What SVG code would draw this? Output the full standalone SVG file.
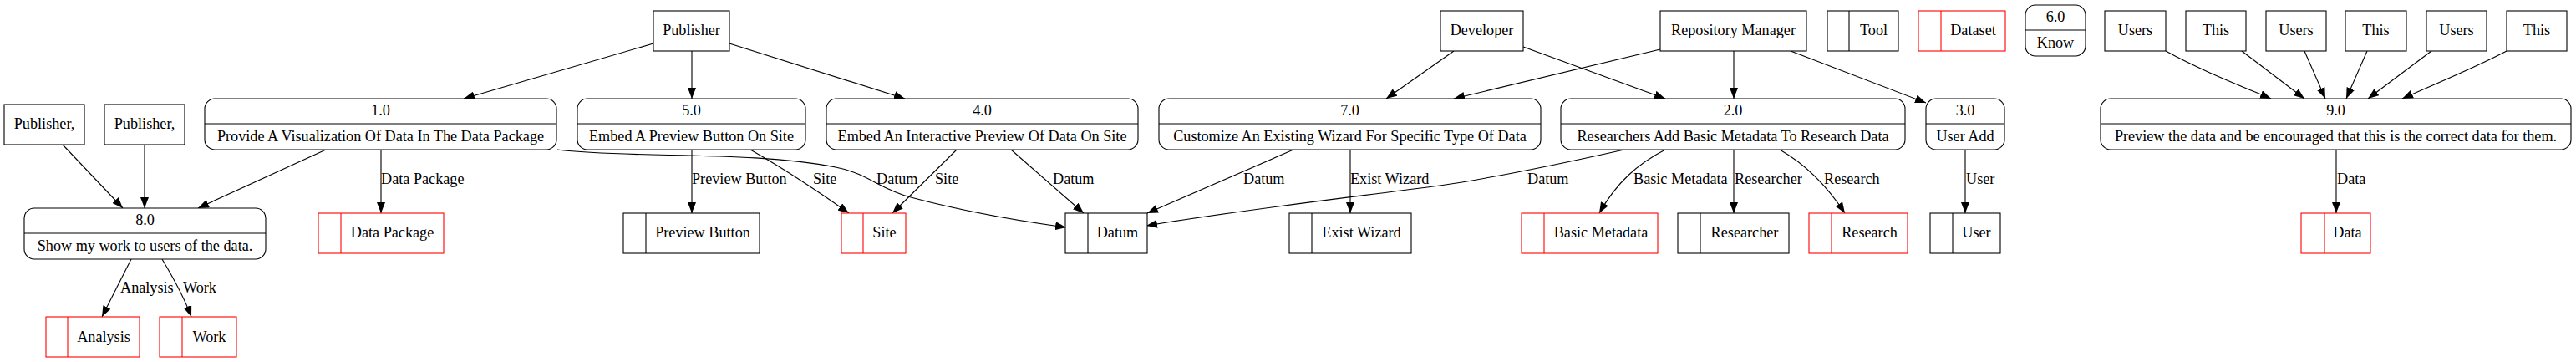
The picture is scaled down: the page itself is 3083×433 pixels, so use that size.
<svg xmlns="http://www.w3.org/2000/svg" width="3083" height="433" viewBox="0 0 3083 433">
<style>
text{font-family:"Liberation Serif","Times New Roman",serif;font-size:18.2px;fill:#000}
.n text{text-anchor:middle}
.box{fill:#fff;stroke:#000;stroke-width:1.1}
.red{fill:#fff;stroke:#ff0000;stroke-width:1.1}
.redl{stroke:#ff0000;stroke-width:1.1}
.bl{stroke:#000;stroke-width:1.1}
.e path{fill:none;stroke:#000;stroke-width:1.1;marker-end:url(#ah)}
.lbl text{text-anchor:start}
</style>
<defs>
<marker id="ah" markerUnits="userSpaceOnUse" markerWidth="13" markerHeight="10" refX="13" refY="5" orient="auto">
<path d="M0,0 L13,5 L0,10 z" fill="#000"/>
</marker>
</defs>
<rect width="3083" height="433" fill="#fff"/>

<g id="connectors" class="e">
<path d="M75,173 L147,249"/>
<path d="M173,173 L173,249"/>
<path d="M390,179 L237,249"/>
<path d="M456,179 L456,255"/>
<path d="M157,310 L122,379"/>
<path d="M194,310 C206,330 219,352 229,379"/>
<path d="M782,52 L555,118"/>
<path d="M828,61 L828,118"/>
<path d="M873,52 L1083,118"/>
<path d="M828,179 L828,255"/>
<path d="M898,179 C935,200 975,226 1016,255"/>
<path d="M667,179 C760,190 900,180 1000,200 C1040,208 1050,225 1090,236 C1150,252 1210,263 1276,272"/>
<path d="M1145,179 L1068,255"/>
<path d="M1210,179 L1297,255"/>
<path d="M1740,61 L1659,118"/>
<path d="M1987,59 L1740,118"/>
<path d="M1823,56 L1993,118"/>
<path d="M2075,61 L2075,118"/>
<path d="M2143,61 L2305,123"/>
<path d="M1616,179 L1616,255"/>
<path d="M1548,179 L1373,255"/>
<path d="M1944,179 C1850,200 1760,218 1700,225 C1600,238 1480,252 1372,270"/>
<path d="M1993,179 C1960,196 1935,218 1914,255"/>
<path d="M2075,179 L2075,255"/>
<path d="M2130,179 C2160,196 2185,220 2208,255"/>
<path d="M2352,179 L2352,255"/>
<path d="M2592,61 C2630,82 2675,100 2718,118"/>
<path d="M2683,61 L2758,118"/>
<path d="M2758,61 L2783,118"/>
<path d="M2833,61 L2808,118"/>
<path d="M2910,61 L2834,118"/>
<path d="M3000,61 C2960,82 2915,100 2875,118"/>
<path d="M2796,179 L2796,255"/>
</g>

<g id="edge-labels" class="lbl">
<text x="456" y="219.5">Data Package</text>
<text x="144" y="350">Analysis</text>
<text x="219" y="350">Work</text>
<text x="828" y="219.5">Preview Button</text>
<text x="973" y="219.5">Site</text>
<text x="1049" y="219.5">Datum</text>
<text x="1119" y="219.5">Site</text>
<text x="1260" y="219.5">Datum</text>
<text x="1488" y="219.5">Datum</text>
<text x="1616" y="219.5">Exist Wizard</text>
<text x="1828" y="219.5">Datum</text>
<text x="1955" y="219.5">Basic Metadata</text>
<text x="2076" y="219.5">Researcher</text>
<text x="2183" y="219.5">Research</text>
<text x="2353" y="219.5">User</text>
<text x="2797" y="219.5">Data</text>
</g>

<g class="n">
<g id="publisher-comma-1"><rect class="box" x="5" y="125" width="96" height="48"/><text x="53" y="154">Publisher,</text></g>
<g id="publisher-comma-2"><rect class="box" x="125" y="125" width="96" height="48"/><text x="173" y="154">Publisher,</text></g>
<g id="publisher"><rect class="box" x="782" y="13" width="91" height="48"/><text x="827.5" y="42">Publisher</text></g>
<g id="developer"><rect class="box" x="1724" y="13" width="99" height="48"/><text x="1773.5" y="42">Developer</text></g>
<g id="repository-manager"><rect class="box" x="1987" y="13" width="175" height="48"/><text x="2074.5" y="42">Repository Manager</text></g>
<g id="users-1"><rect class="box" x="2519" y="13" width="73" height="48"/><text x="2555.5" y="42">Users</text></g>
<g id="this-1"><rect class="box" x="2616" y="13" width="72" height="48"/><text x="2652" y="42">This</text></g>
<g id="users-2"><rect class="box" x="2712" y="13" width="72" height="48"/><text x="2748" y="42">Users</text></g>
<g id="this-2"><rect class="box" x="2807" y="13" width="73" height="48"/><text x="2843.5" y="42">This</text></g>
<g id="users-3"><rect class="box" x="2904" y="13" width="72" height="48"/><text x="2940" y="42">Users</text></g>
<g id="this-3"><rect class="box" x="3000" y="13" width="72" height="48"/><text x="3036" y="42">This</text></g>

<g id="p1"><rect class="box" x="245" y="118" width="421" height="61" rx="12"/><line class="bl" x1="245" y1="148" x2="666" y2="148"/><text x="455.5" y="138">1.0</text><text x="455.5" y="169">Provide A Visualization Of Data In The Data Package</text></g>
<g id="p2"><rect class="box" x="1868" y="118" width="412" height="61" rx="12"/><line class="bl" x1="1868" y1="148" x2="2280" y2="148"/><text x="2074" y="138">2.0</text><text x="2074" y="169">Researchers Add Basic Metadata To Research Data</text></g>
<g id="p3"><rect class="box" x="2305" y="118" width="94" height="61" rx="12"/><line class="bl" x1="2305" y1="148" x2="2399" y2="148"/><text x="2352" y="138">3.0</text><text x="2352" y="169">User Add</text></g>
<g id="p4"><rect class="box" x="989" y="118" width="373" height="61" rx="12"/><line class="bl" x1="989" y1="148" x2="1362" y2="148"/><text x="1175.5" y="138">4.0</text><text x="1175.5" y="169">Embed An Interactive Preview Of Data On Site</text></g>
<g id="p5"><rect class="box" x="691" y="118" width="273" height="61" rx="12"/><line class="bl" x1="691" y1="148" x2="964" y2="148"/><text x="827.5" y="138">5.0</text><text x="827.5" y="169">Embed A Preview Button On Site</text></g>
<g id="p6"><rect class="box" x="2424" y="6" width="72" height="61" rx="12"/><line class="bl" x1="2424" y1="36" x2="2496" y2="36"/><text x="2460" y="26">6.0</text><text x="2460" y="57">Know</text></g>
<g id="p7"><rect class="box" x="1387" y="118" width="457" height="61" rx="12"/><line class="bl" x1="1387" y1="148" x2="1844" y2="148"/><text x="1615.5" y="138">7.0</text><text x="1615.5" y="169">Customize An Existing Wizard For Specific Type Of Data</text></g>
<g id="p8"><rect class="box" x="29" y="249" width="289" height="61" rx="12"/><line class="bl" x1="29" y1="279" x2="318" y2="279"/><text x="173.5" y="269">8.0</text><text x="173.5" y="300">Show my work to users of the data.</text></g>
<g id="p9"><rect class="box" x="2514" y="118" width="563" height="61" rx="12"/><line class="bl" x1="2514" y1="148" x2="3077" y2="148"/><text x="2795.5" y="138">9.0</text><text x="2795.5" y="169">Preview the data and be encouraged that this is the correct data for them.</text></g>

<g id="store-data-package"><rect class="red" x="381" y="255" width="150" height="48"/><line class="redl" x1="408" y1="255" x2="408" y2="303"/><text x="469.5" y="284">Data Package</text></g>
<g id="store-analysis"><rect class="red" x="55" y="379" width="112" height="48"/><line class="redl" x1="81" y1="379" x2="81" y2="427"/><text x="124" y="408.5">Analysis</text></g>
<g id="store-work"><rect class="red" x="191" y="379" width="92" height="48"/><line class="redl" x1="218" y1="379" x2="218" y2="427"/><text x="250.5" y="408.5">Work</text></g>
<g id="store-preview-button"><rect class="box" x="746" y="255" width="163" height="48"/><line class="bl" x1="773" y1="255" x2="773" y2="303"/><text x="841" y="284">Preview Button</text></g>
<g id="store-site"><rect class="red" x="1007" y="255" width="77" height="48"/><line class="redl" x1="1033" y1="255" x2="1033" y2="303"/><text x="1058.5" y="284">Site</text></g>
<g id="store-datum"><rect class="box" x="1275" y="255" width="98" height="48"/><line class="bl" x1="1302" y1="255" x2="1302" y2="303"/><text x="1337.5" y="284">Datum</text></g>
<g id="store-exist-wizard"><rect class="box" x="1543" y="255" width="146" height="48"/><line class="bl" x1="1570" y1="255" x2="1570" y2="303"/><text x="1629.5" y="284">Exist Wizard</text></g>
<g id="store-basic-metadata"><rect class="red" x="1821" y="255" width="163" height="48"/><line class="redl" x1="1848" y1="255" x2="1848" y2="303"/><text x="1916" y="284">Basic Metadata</text></g>
<g id="store-researcher"><rect class="box" x="2008" y="255" width="133" height="48"/><line class="bl" x1="2035" y1="255" x2="2035" y2="303"/><text x="2088" y="284">Researcher</text></g>
<g id="store-research"><rect class="red" x="2165" y="255" width="118" height="48"/><line class="redl" x1="2192" y1="255" x2="2192" y2="303"/><text x="2237.5" y="284">Research</text></g>
<g id="store-user"><rect class="box" x="2310" y="255" width="84" height="48"/><line class="bl" x1="2337" y1="255" x2="2337" y2="303"/><text x="2365.5" y="284">User</text></g>
<g id="store-data"><rect class="red" x="2754" y="255" width="83" height="48"/><line class="redl" x1="2782" y1="255" x2="2782" y2="303"/><text x="2809.5" y="284">Data</text></g>
<g id="store-tool"><rect class="box" x="2187" y="13" width="85" height="48"/><line class="bl" x1="2213" y1="13" x2="2213" y2="61"/><text x="2242.5" y="42">Tool</text></g>
<g id="store-dataset"><rect class="red" x="2296" y="13" width="104" height="48"/><line class="redl" x1="2323" y1="13" x2="2323" y2="61"/><text x="2361.5" y="42">Dataset</text></g>
</g>
</svg>
